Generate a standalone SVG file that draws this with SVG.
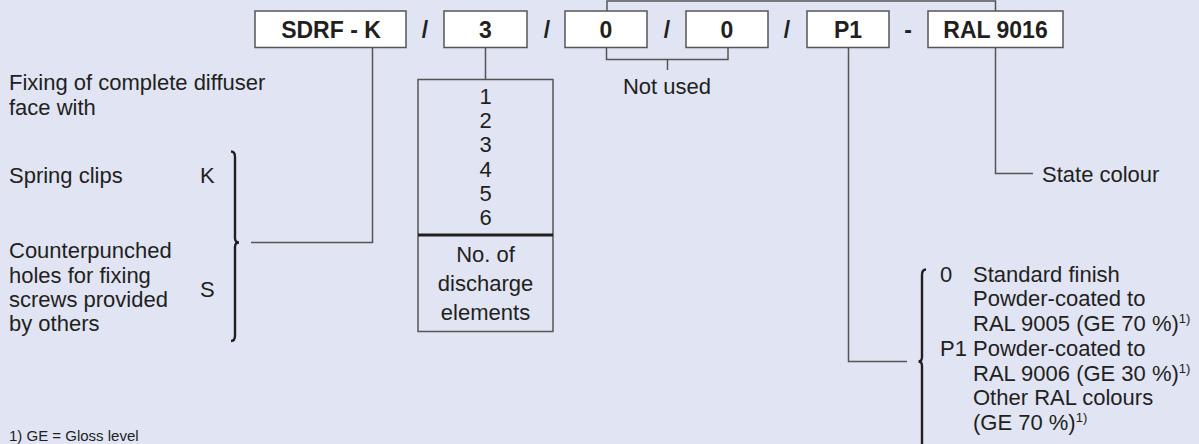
<svg xmlns="http://www.w3.org/2000/svg" width="1199" height="444" viewBox="0 0 1199 444">
<style>
.t{font-family:"Liberation Sans",Arial,sans-serif;font-size:22px;fill:#231f20}
.b{font-weight:bold;text-anchor:middle;font-size:23px}
.m{text-anchor:middle}
.box{fill:#fff;stroke:#555;stroke-width:1.5}
.ln{fill:none;stroke:#555;stroke-width:1.5}
.br{fill:none;stroke:#231f20;stroke-width:2.4}
.sup{font-size:13px}
</style>
<rect width="1199" height="444" fill="#e0e4f3"/>
<g id="connectors">
<path class="ln" d="M607,11 V1 H995.5 V11"/>
<path class="ln" d="M372.5,47.5 V242.5 H251"/>
<path class="ln" d="M485.5,47.5 V79.5"/>
<path class="ln" d="M606.5,47.5 V59.5 H728 V47.5 M667.5,59.5 V70"/>
<path class="ln" d="M848.5,47.5 V361.5 H907"/>
<path class="ln" d="M995.5,47.5 V173.5 H1033"/>
</g>
<g id="code">
<g id="n-sdrf"><rect class="box" x="255" y="11" width="151" height="36.5"/><text class="t b" x="331" y="38">SDRF - K</text></g>
<text class="t b" x="425" y="38">/</text>
<g id="n-3"><rect class="box" x="444" y="11" width="83" height="36.5"/><text class="t b" x="485.5" y="38">3</text></g>
<text class="t b" x="547" y="38">/</text>
<g id="n-0a"><rect class="box" x="565" y="11" width="82" height="36.5"/><text class="t b" x="606" y="38">0</text></g>
<text class="t b" x="667" y="38">/</text>
<g id="n-0b"><rect class="box" x="686" y="11" width="82" height="36.5"/><text class="t b" x="727" y="38">0</text></g>
<text class="t b" x="787" y="38">/</text>
<g id="n-p1"><rect class="box" x="807" y="11" width="82" height="36.5"/><text class="t b" x="848" y="38">P1</text></g>
<text class="t b" x="908" y="38">-</text>
<g id="n-ral"><rect class="box" x="928" y="11" width="135" height="36.5"/><text class="t b" x="995.5" y="38">RAL 9016</text></g>
</g>
<g id="n-fixing">
<text class="t" x="9" y="90">Fixing of complete diffuser</text>
<text class="t" x="9" y="115">face with</text>
<text class="t" x="9" y="183">Spring clips</text>
<text class="t" x="200" y="183">K</text>
<text class="t" x="9" y="258">Counterpunched</text>
<text class="t" x="9" y="283">holes for fixing</text>
<text class="t" x="9" y="307">screws provided</text>
<text class="t" x="9" y="331">by others</text>
<text class="t" x="200" y="297">S</text>
<path class="br" d="M231,151.5 Q235,151.5 235,157 V238 Q235,242.5 239,242.5 Q235,242.5 235,247 V335.5 Q235,341 231,341"/>
</g>
<g id="n-elements">
<rect x="418" y="79.5" width="135" height="252" fill="none" stroke="#555" stroke-width="1.5"/>
<line x1="418" y1="235" x2="553" y2="235" stroke="#231f20" stroke-width="3"/>
<text class="t m" x="485.5" y="103.5">1</text>
<text class="t m" x="485.5" y="127.5">2</text>
<text class="t m" x="485.5" y="152">3</text>
<text class="t m" x="485.5" y="176.5">4</text>
<text class="t m" x="485.5" y="201">5</text>
<text class="t m" x="485.5" y="225">6</text>
<text class="t m" x="485.5" y="262">No. of</text>
<text class="t m" x="485.5" y="291">discharge</text>
<text class="t m" x="485.5" y="320">elements</text>
</g>
<g id="n-notused"><text class="t m" x="667" y="93.5">Not used</text></g>
<g id="n-state"><text class="t" x="1042" y="182">State colour</text></g>
<g id="n-finish">
<path class="br" d="M926,269.5 Q922,269.5 922,275 V357 Q922,361.5 918.5,361.5 Q922,361.5 922,366 V450"/>
<text class="t" x="940" y="282">0</text>
<text class="t" x="973" y="282">Standard finish</text>
<text class="t" x="973" y="306">Powder-coated to</text>
<text class="t" x="973" y="331">RAL 9005 (GE 70 %)<tspan class="sup" dy="-8">1)</tspan></text>
<text class="t" x="940" y="356">P1</text>
<text class="t" x="973" y="356">Powder-coated to</text>
<text class="t" x="973" y="381">RAL 9006 (GE 30 %)<tspan class="sup" dy="-8">1)</tspan></text>
<text class="t" x="973" y="405">Other RAL colours</text>
<text class="t" x="973" y="430">(GE 70 %)<tspan class="sup" dy="-8">1)</tspan></text>
</g>
<g id="n-footnote"><text class="t" x="9" y="441" style="font-size:15px">1) GE = Gloss level</text></g>
</svg>
